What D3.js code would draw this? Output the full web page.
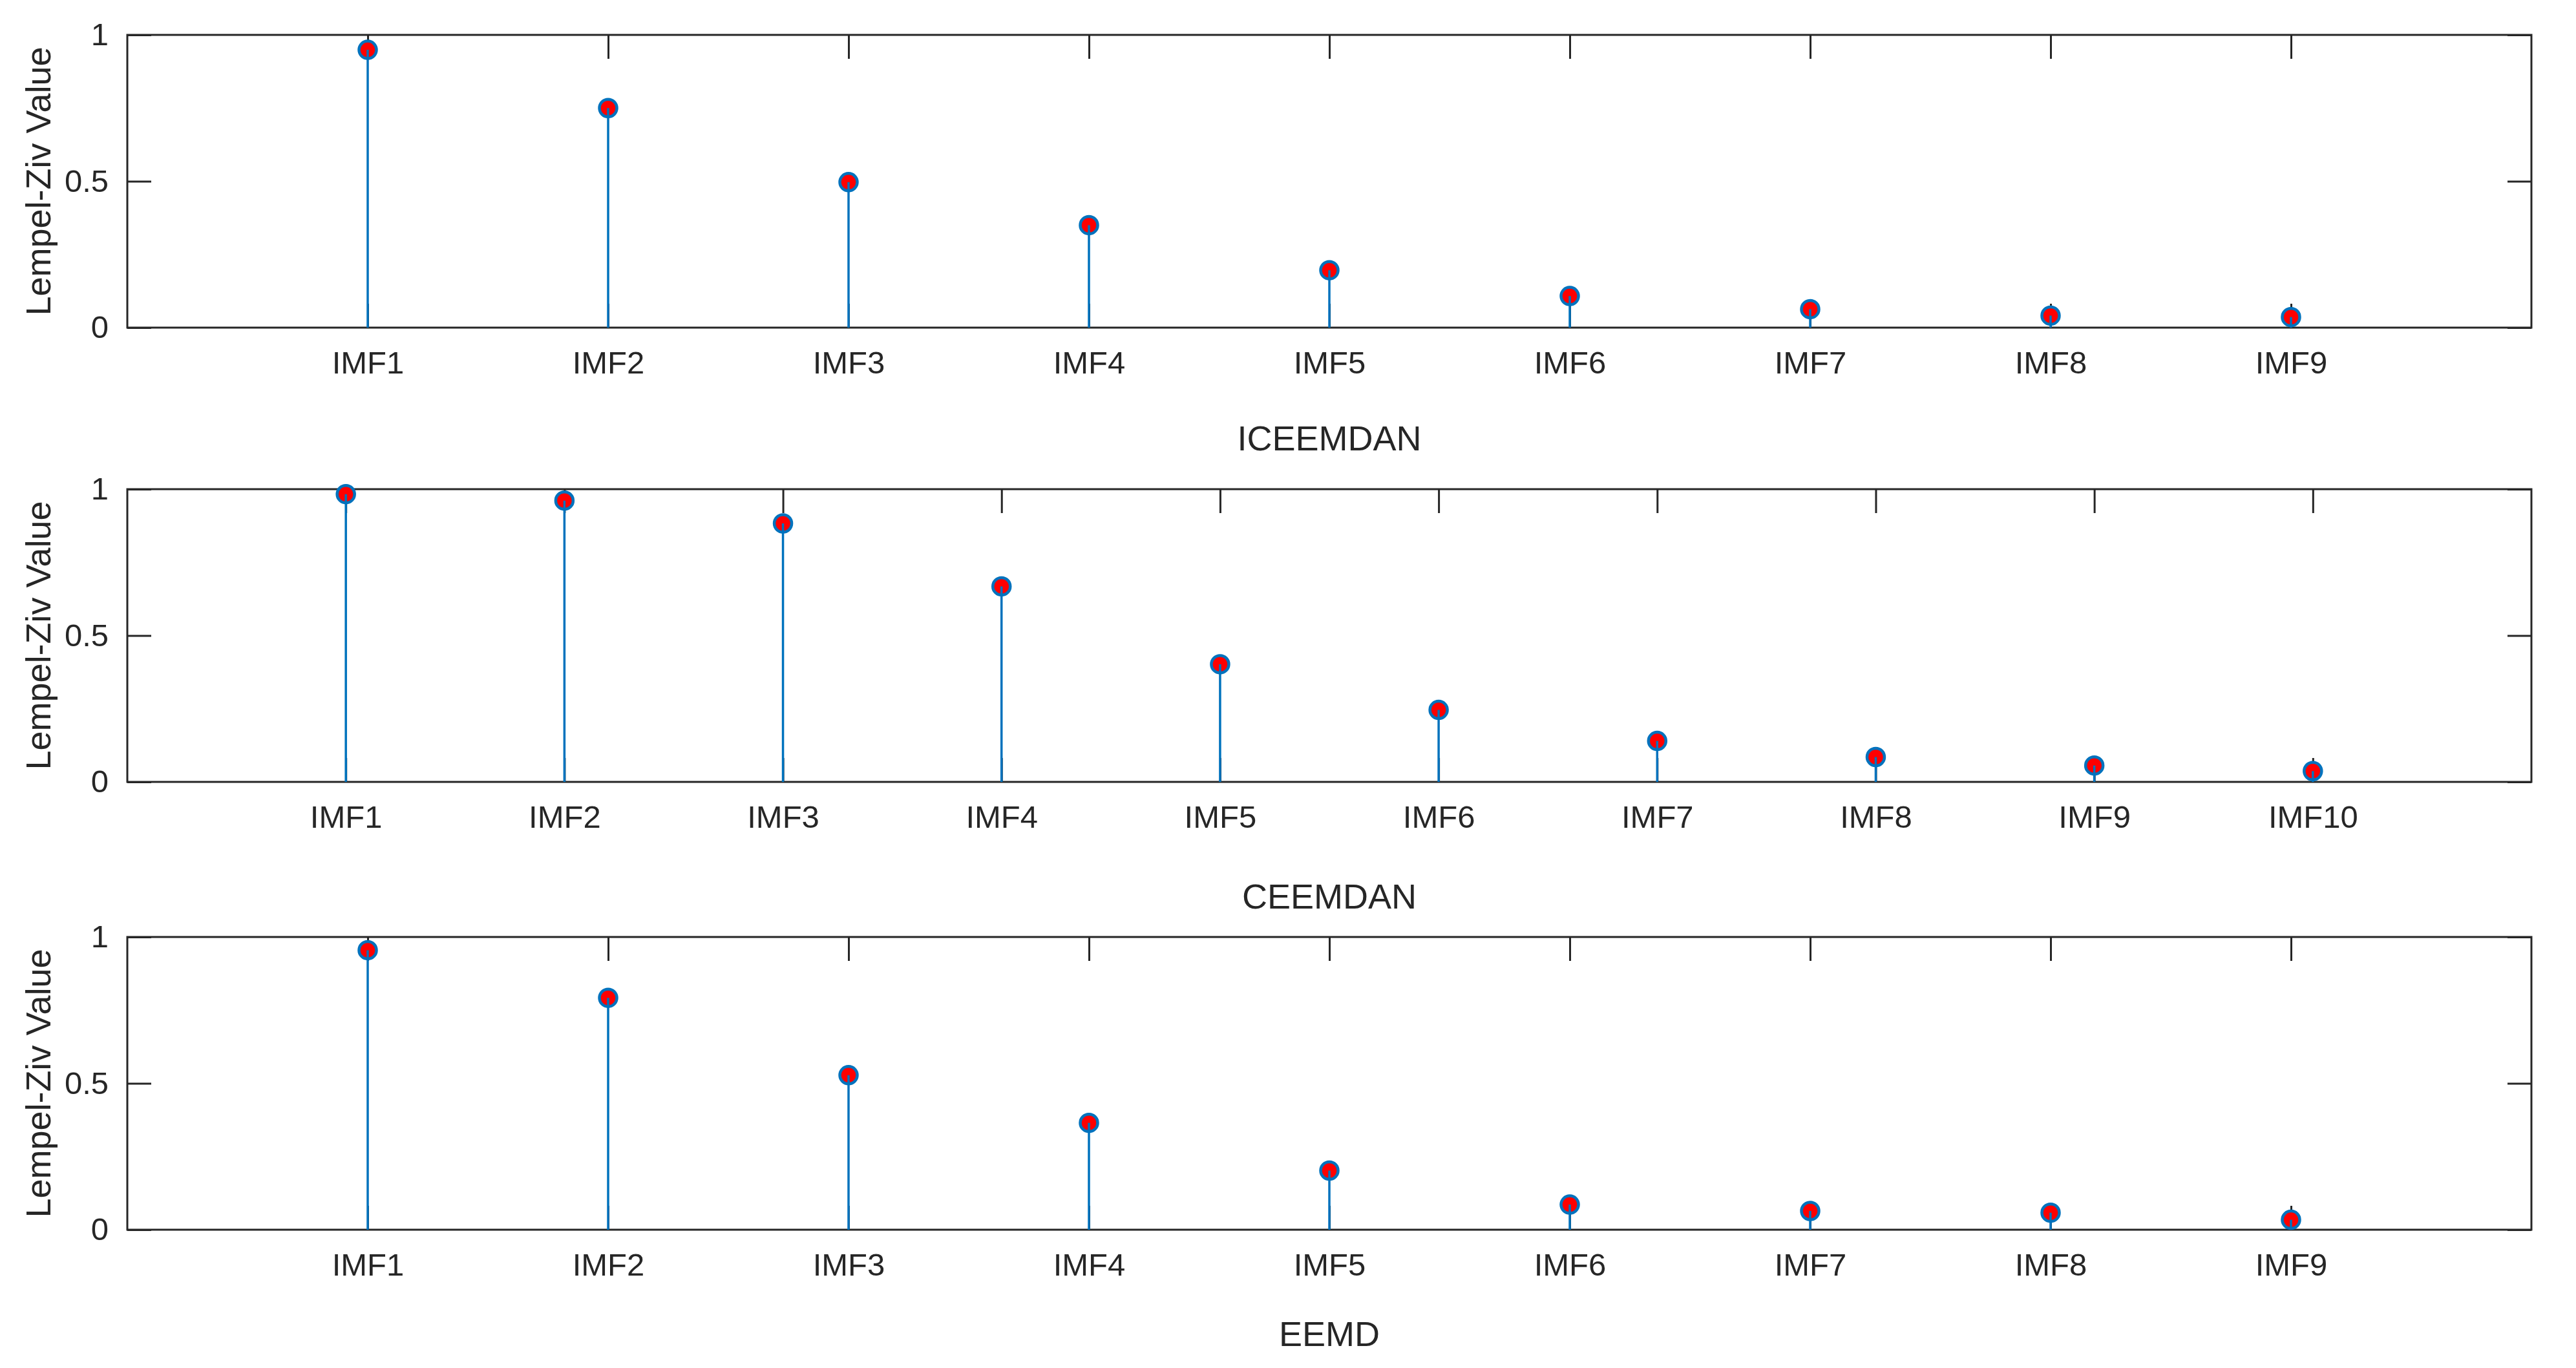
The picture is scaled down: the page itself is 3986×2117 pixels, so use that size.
<!DOCTYPE html>
<html>
<head>
<meta charset="utf-8">
<script src="https://cdn.jsdelivr.net/npm/d3@7"></script>
<style>
  body { margin: 0; background: #fff; }
  svg { display: block; }
  text { font-family: "Liberation Sans", Arial, sans-serif; fill: #262626; }
</style>
</head>
<body>
<svg id="chart"></svg>
<script>
// 各子圖的數據
const labels9 = ["IMF1", "IMF2", "IMF3", "IMF4", "IMF5", "IMF6", "IMF7", "IMF8", "IMF9"];
const labels10 = ["IMF1", "IMF2", "IMF3", "IMF4", "IMF5", "IMF6", "IMF7", "IMF8", "IMF9", "IMF10"];
const iceemdanValues = [0.949, 0.75, 0.497, 0.35, 0.196, 0.108, 0.063, 0.041, 0.036];
const ceemdanValues = [0.983, 0.961, 0.883, 0.668, 0.402, 0.246, 0.14, 0.085, 0.056, 0.037];
const eemdValues = [0.955, 0.792, 0.528, 0.365, 0.202, 0.086, 0.064, 0.058, 0.034];
const yTicks = [0, 0.5, 1];
const yTitle = "Lempel-Ziv Value";

const panels = [
  { title: "ICEEMDAN", labels: labels9, values: iceemdanValues },
  { title: "CEEMDAN", labels: labels10, values: ceemdanValues },
  { title: "EEMD", labels: labels9, values: eemdValues },
];

const W = 3986, H = 2117;
const left = 197, right = 3917; // 繪圖區左右邊界
const tops = [54, 757, 1450];
const titleOffsets = [190, 196, 180]; // x 軸標題距離下框的位置
const plotH = 453;
const tickLen = 37;
const axisColor = "#262626";
const stemColor = "#0072BD";

const svg = d3.select("#chart").attr("width", W).attr("height", H);

panels.forEach((p, k) => {
  const top = tops[k], bottom = top + plotH;
  const n = p.values.length;
  const x = d3.scaleLinear().domain([0, n + 1]).range([left, right]);
  const y = d3.scaleLinear().domain([0, 1]).range([bottom, top]);
  const idx = d3.range(1, n + 1);

  const g = svg.append("g").attr("class", "panel");

  // 上下左右的刻度（朝內）
  const styleAxis = (sel) => {
    sel.select(".domain").remove();
    sel.selectAll(".tick line").attr("stroke", axisColor).attr("stroke-width", 3);
    sel.selectAll(".tick text")
      .attr("font-size", 49)
      .attr("fill", axisColor)
      .style("font-family", '"Liberation Sans", Arial, sans-serif');
  };

  g.append("g")
    .attr("transform", `translate(0,${bottom})`)
    .call(d3.axisBottom(x).tickValues(idx).tickFormat((d) => p.labels[d - 1])
      .tickSizeInner(-tickLen).tickSizeOuter(0).tickPadding(36))
    .call(styleAxis);

  g.append("g")
    .attr("transform", `translate(0,${top})`)
    .call(d3.axisTop(x).tickValues(idx).tickFormat("")
      .tickSizeInner(-tickLen).tickSizeOuter(0))
    .call(styleAxis);

  g.append("g")
    .attr("transform", `translate(${left},0)`)
    .call(d3.axisLeft(y).tickValues(yTicks).tickFormat(d3.format("~g"))
      .tickSizeInner(-tickLen).tickSizeOuter(0).tickPadding(29))
    .call(styleAxis);

  g.append("g")
    .attr("transform", `translate(${right},0)`)
    .call(d3.axisRight(y).tickValues(yTicks).tickFormat("")
      .tickSizeInner(-tickLen).tickSizeOuter(0))
    .call(styleAxis);

  // 外框
  g.append("rect")
    .attr("x", left).attr("y", top)
    .attr("width", right - left).attr("height", plotH)
    .attr("fill", "none").attr("stroke", axisColor).attr("stroke-width", 3);

  // 標記點（先畫，讓莖線蓋在上面）
  g.selectAll(".marker")
    .data(p.values)
    .enter()
    .append("circle")
    .attr("class", "marker")
    .attr("cx", (d, i) => x(i + 1))
    .attr("cy", (d) => y(d))
    .attr("r", 13.5)
    .attr("fill", "#ff0000")
    .attr("stroke", stemColor)
    .attr("stroke-width", 4.5);

  // 莖線
  g.selectAll(".stem")
    .data(p.values)
    .enter()
    .append("line")
    .attr("class", "stem")
    .attr("x1", (d, i) => x(i + 1))
    .attr("x2", (d, i) => x(i + 1))
    .attr("y1", y(0))
    .attr("y2", (d) => y(d))
    .attr("stroke", stemColor)
    .attr("stroke-width", 3.5);

  // y 軸標題
  g.append("text")
    .attr("transform", `translate(78,${(top + bottom) / 2}) rotate(-90)`)
    .attr("text-anchor", "middle")
    .attr("font-size", 54)
    .text(yTitle);

  // x 軸標題
  g.append("text")
    .attr("x", (left + right) / 2)
    .attr("y", bottom + titleOffsets[k])
    .attr("text-anchor", "middle")
    .attr("font-size", 54)
    .text(p.title);
});
</script>
</body>
</html>
